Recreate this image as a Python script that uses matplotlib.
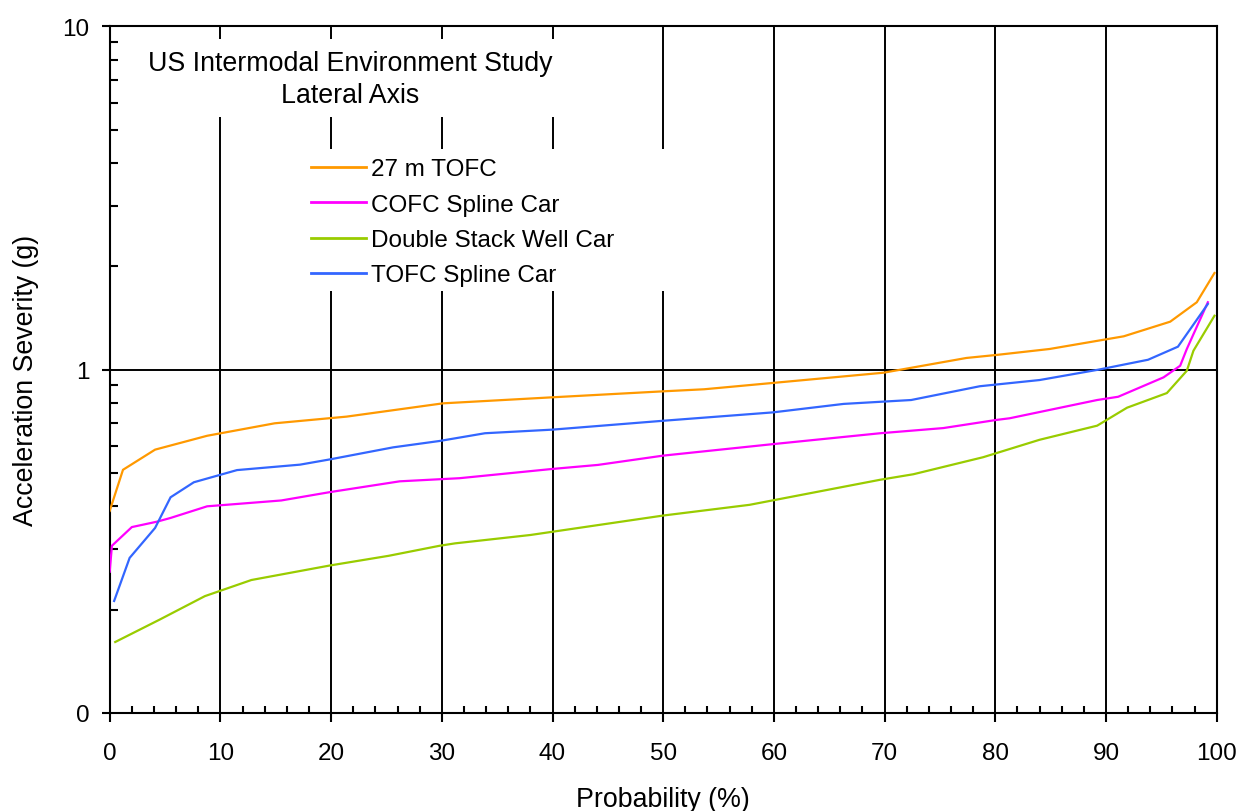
import matplotlib
matplotlib.use("Agg")
import matplotlib.pyplot as plt
from matplotlib.patches import Rectangle
from matplotlib.ticker import FixedLocator, MultipleLocator, NullFormatter

plt.rcParams['font.family'] = ['Liberation Sans', 'DejaVu Sans']

# ---- data ----
tofc27_x = [0.0, 1.2, 4.1, 8.8, 14.9, 21.4, 30.1, 40.0, 50.0, 53.7, 59.9, 69.9,
            77.4, 80.1, 84.9, 91.6, 95.8, 98.2, 99.8]
tofc27_y = [0.388, 0.511, 0.585, 0.642, 0.698, 0.730, 0.798, 0.831, 0.865, 0.877,
            0.915, 0.980, 1.082, 1.104, 1.149, 1.251, 1.380, 1.572, 1.913]

cofc_x = [0.0, 0.2, 2.0, 4.3, 5.5, 8.8, 15.5, 19.9, 26.2, 31.6, 40.0, 44.1, 50.0,
          59.9, 69.6, 75.3, 80.1, 81.3, 89.2, 91.1, 95.2, 96.7, 97.3, 99.2]
cofc_y = [0.258, 0.307, 0.348, 0.361, 0.370, 0.400, 0.416, 0.440, 0.473, 0.483,
          0.514, 0.528, 0.562, 0.607, 0.653, 0.676, 0.714, 0.722, 0.816, 0.834,
          0.950, 1.027, 1.149, 1.572]

dstack_x = [0.5, 4.5, 8.6, 12.8, 19.9, 25.2, 29.8, 31.2, 38.0, 50.0, 57.8, 69.6,
            72.6, 78.9, 84.0, 89.2, 91.9, 95.5, 97.3, 97.9, 99.8]
dstack_y = [0.161, 0.187, 0.219, 0.244, 0.269, 0.287, 0.307, 0.312, 0.330, 0.376,
            0.404, 0.478, 0.496, 0.556, 0.625, 0.687, 0.775, 0.855, 0.993, 1.136,
            1.436]

tofcs_x = [0.4, 1.8, 4.1, 5.5, 7.6, 11.5, 17.2, 19.9, 25.6, 29.8, 33.9, 40.0, 50.0,
           59.9, 66.3, 72.4, 78.6, 84.0, 89.3, 93.8, 96.5, 99.2]
tofcs_y = [0.212, 0.283, 0.346, 0.425, 0.470, 0.510, 0.529, 0.548, 0.594, 0.620,
           0.653, 0.669, 0.710, 0.751, 0.795, 0.816, 0.895, 0.933, 1.000, 1.069,
           1.167, 1.554]

series_names = ["27 m TOFC", "COFC Spline Car", "Double Stack Well Car", "TOFC Spline Car"]
series_colors = ["#FF9900", "#FF00FF", "#99CC00", "#3366FF"]

x_ticks = [0, 10, 20, 30, 40, 50, 60, 70, 80, 90, 100]
y_ticks = [0.1, 1, 10]
y_tick_labels = ["0", "1", "10"]

title_line1 = "US Intermodal Environment Study"
title_line2 = "Lateral Axis"
x_label = "Probability (%)"
y_label = "Acceleration Severity (g)"

# ---- figure ----
W, H = 1243, 812
fig = plt.figure(figsize=(W / 100, H / 100), dpi=100)
L, R, T, B = 109.7, 1216.7, 27.4, 714.0
ax = fig.add_axes([L / W, 1 - B / H, (R - L) / W, (B - T) / H])

FS = 17.5      # ticks, legend
FS_BIG = 19.3  # title, axis labels

def px2ax(px, py):
    return (px - L) / (R - L), (B - py) / (B - T)

data = [(tofc27_x, tofc27_y), (cofc_x, cofc_y), (dstack_x, dstack_y), (tofcs_x, tofcs_y)]
for (xs, ys), name, col in zip(data, series_names, series_colors):
    ax.plot(xs, ys, color=col, lw=1.6, label=name, zorder=3, solid_joinstyle='miter')

ax.set_yscale('log')
ax.set_xlim(0, 100)
ax.set_ylim(0.1, 10)

ax.set_xticks(x_ticks)
ax.set_xticklabels([str(v) for v in x_ticks])
ax.xaxis.set_minor_locator(MultipleLocator(2))
ax.set_yticks(y_ticks)
ax.set_yticklabels(y_tick_labels)
ax.yaxis.set_minor_locator(FixedLocator([m * d for d in (0.1, 1) for m in range(2, 10)]))
ax.yaxis.set_minor_formatter(NullFormatter())

ax.tick_params(axis='x', which='major', direction='out', length=6.7, width=1.5,
               labelsize=FS, pad=14.5)
ax.tick_params(axis='x', which='minor', direction='in', length=5.3, width=1.5)
ax.tick_params(axis='y', which='major', direction='out', length=6.0, width=1.5,
               labelsize=FS, pad=8.5)
ax.tick_params(axis='y', which='minor', direction='in', length=5.8, width=1.5)

for s in ax.spines.values():
    s.set_linewidth(1.5)
    s.set_color('black')

ax.grid(True, which='major', axis='both', color='black', lw=1.4)
ax.set_axisbelow('line')

# white boxes behind title and legend (hide gridlines)
tx0, ty0 = px2ax(140, 118)
tx1, ty1 = px2ax(600, 40)
ax.add_patch(Rectangle((tx0, ty0), tx1 - tx0, ty1 - ty0, transform=ax.transAxes,
                       facecolor='white', edgecolor='none', zorder=1.8))
lx0, ly0 = px2ax(300, 292)
lx1, ly1 = px2ax(670, 150)
ax.add_patch(Rectangle((lx0, ly0), lx1 - lx0, ly1 - ly0, transform=ax.transAxes,
                       facecolor='white', edgecolor='none', zorder=1.8))

c1x, c1y = px2ax(350.5, 70.7)
ax.text(c1x, c1y, title_line1, transform=ax.transAxes, ha='center', va='baseline',
        fontsize=FS_BIG, zorder=4)
c2x, c2y = px2ax(350.5, 103.3)
ax.text(c2x, c2y, title_line2, transform=ax.transAxes, ha='center', va='baseline',
        fontsize=FS_BIG, zorder=4)

ancx, ancy = px2ax(310.7, 159.3)
leg = ax.legend(loc='upper left', bbox_to_anchor=(ancx, ancy), frameon=False,
                fontsize=FS, handlelength=2.26, handletextpad=0.22, labelspacing=0.55,
                borderpad=0, borderaxespad=0)
for h in leg.get_lines():
    h.set_linewidth(2.0)

ax.set_xlabel(x_label, fontsize=FS_BIG)
ax.set_ylabel(y_label, fontsize=FS_BIG)
ax.xaxis.set_label_coords(0.5, px2ax(0, 787.0)[1])
ax.yaxis.set_label_coords(px2ax(39, 0)[0], px2ax(0, 380)[1])

fig.savefig("out.png", dpi=100)
